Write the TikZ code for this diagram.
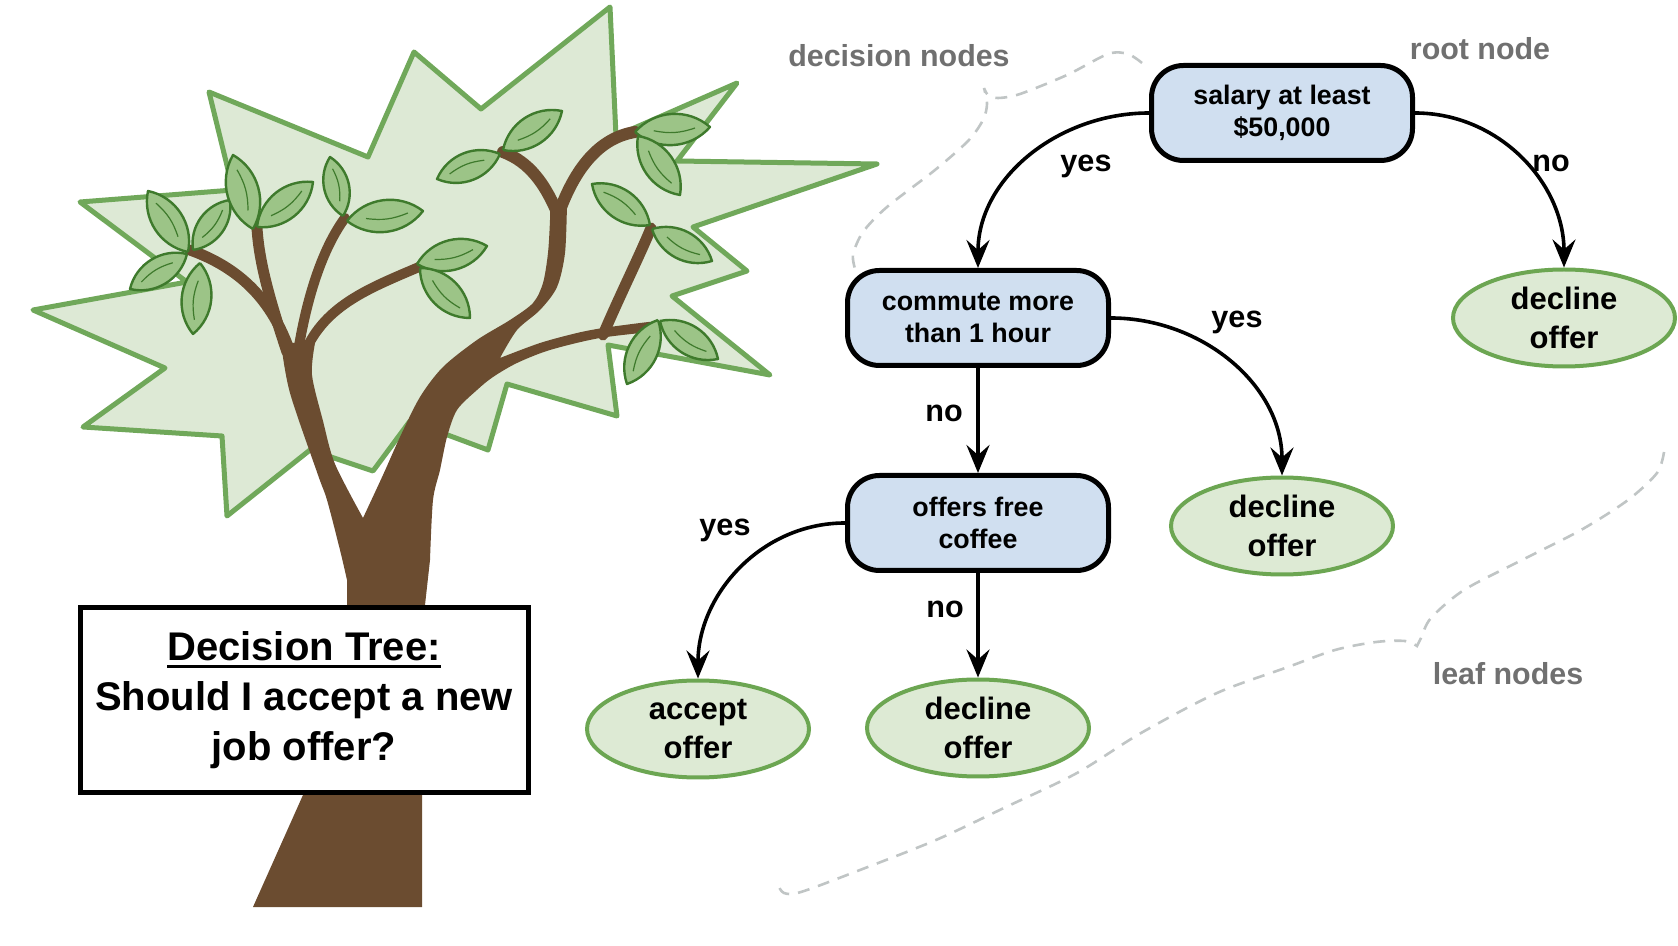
\documentclass[tikz,border=0pt]{standalone}
\usepackage{fontspec}
\setmainfont{Liberation Sans}
\usetikzlibrary{positioning,arrows.meta,shapes,calc}
\definecolor{nodeblue}{RGB}{208,223,240}
\definecolor{endfill}{RGB}{221,234,212}
\definecolor{endedge}{RGB}{108,166,82}
\definecolor{crownfill}{RGB}{221,233,213}
\definecolor{crownedge}{RGB}{112,168,90}
\definecolor{bark}{RGB}{107,76,48}
\definecolor{foliagefill}{RGB}{156,196,135}
\definecolor{foliageedge}{RGB}{62,122,44}
\definecolor{notegray}{RGB}{112,112,112}
\definecolor{dashgray}{RGB}{192,197,197}

% one small leaf of the drawn tree, from its base to its tip
\newcommand{\leafat}[2]{%
  \draw[foliage] (#1) to[bend left=45] (#2) to[bend left=45] (#1);
  \draw[vein] ($(#1)!0.25!(#2)$) to[bend right=15] ($(#1)!0.8!(#2)$);
}
\newcommand{\ulbar}[1]{\setbox0\hbox{#1}\rlap{\vrule height -2.4pt depth 3.9pt width \wd0}\box0}

\begin{document}
\begin{tikzpicture}[x=0.5pt, y=-0.5pt,
    decision/.style={draw=black, line width=2.5pt, fill=nodeblue, rounded corners=16pt,
      minimum width=130.5pt, minimum height=47.5pt, align=center,
      font=\fontsize{13.4}{16}\selectfont\bfseries},
    outcome/.style={ellipse, draw=endedge, line width=2pt, fill=endfill, inner sep=0pt,
      minimum width=111pt, minimum height=48.5pt, align=center,
      font=\fontsize{15.5}{19.5}\selectfont\bfseries},
    link/.style={line width=1.8pt, -{Stealth[length=14pt,width=11.5pt,inset=5pt]}},
    answer/.style={anchor=base, font=\fontsize{15.3}{18}\selectfont\bfseries},
    note/.style={anchor=base, text=notegray, font=\fontsize{15.2}{18}\selectfont\bfseries},
    hint/.style={draw=dashgray, line width=1.3pt, dash pattern=on 6pt off 4.5pt},
    crown/.style={fill=crownfill, draw=crownedge, line width=2.5pt, line join=round},
    limb/.style={draw=bark, line cap=round},
    foliage/.style={draw=foliageedge, fill=foliagefill, line width=1.2pt, line join=round},
    vein/.style={draw=foliageedge, line width=0.6pt}]
  \useasboundingbox (0,0) rectangle (1678,946);

  % the tree
  \filldraw[crown] (414,52) -- (481,109) -- (610,7) -- (616,136) -- (737,83) -- (677,161)
    -- (877,164) -- (693,227) -- (747,271) -- (672,296) -- (770,375) -- (608,345)
    -- (617,416) -- (507,384) -- (488,450) -- (410,421) -- (373,471) -- (310,450)
    -- (227,516) -- (222,436) -- (83,427) -- (165,368) -- (33,310) -- (187,282)
    -- (80,202) -- (233,190) -- (209,92) -- (368,157) -- cycle;
  \fill[bark] (253,907) -- (303,795) -- (347,605)
    -- plot[smooth] coordinates {(347,580) (340,550) (327,500) (318,475) (290,393) (281,343)}
    -- plot[smooth] coordinates {(315,343) (312,375) (323,421) (335,464) (363,518)}
    -- plot[smooth] coordinates {(363,518) (383,475) (400,437) (420,397) (443,367) (477,340)
         (510,320) (533,303) (543,283) (548,253) (550,220) (550,205)}
    -- plot[smooth] coordinates {(567,203) (565,253) (557,287) (540,310) (517,330) (500,358)}
    -- plot[smooth] coordinates {(500,358) (540,343) (577,333) (603,328) (640,323) (658,321)}
    -- plot[smooth] coordinates {(660,331) (600,338) (550,350) (517,363) (493,377) (477,390)
         (457,410) (447,437) (440,470) (433,500) (430,560)}
    -- (425,605) -- (422,795) -- (422,907) -- cycle;
  \draw[limb, line width=5.5pt] (290,352) .. controls (272,300) and (240,268) .. (190,250);
  \draw[limb, line width=5.5pt] (287,352) .. controls (268,295) and (259,260) .. (257,228);
  \draw[limb, line width=5pt] (298,352) .. controls (308,290) and (325,245) .. (345,218);
  \draw[limb, line width=5pt] (305,352) .. controls (325,305) and (370,288) .. (419,267);
  \draw[limb, line width=5.5pt] (603,335) .. controls (620,295) and (640,255) .. (651,228);
  \draw[limb, line width=6pt] (556,210) .. controls (545,185) and (530,162) .. (503,152);
  \draw[limb, line width=6pt] (560,210) .. controls (575,170) and (598,138) .. (635,132);
  \foreach \bx/\by/\tx/\ty in {188/252/148/191, 193/250/230/200, 187/254/130/289,
      200/263/193/334, 253/229/233/155, 257/227/313/182, 343/216/330/157,
      347/221/423/211, 417/264/487/246, 420/268/470/318, 500/154/437/179,
      503/150/562/111, 635/132/710/127, 638/136/680/195, 650/225/592/184,
      652/229/712/261, 658/320/627/384, 660/321/718/359}
    \leafat{\bx,\by}{\tx,\ty};

  \node[draw=black, line width=2.5pt, fill=white, minimum width=224pt, minimum height=92.5pt,
    align=center, font=\fontsize{20}{25}\selectfont\bfseries] (title) at (304,700)
    {\ulbar{Decision Tree:}\\Should I accept a new\\job offer?};

  % the decision tree
  \node[decision] (root) at (1282,113) {salary at least\\\$50,000};
  \node[decision] (commute) at (978,318) {commute more\\than 1 hour};
  \node[decision] (coffee) at (978,523) {offers free\\coffee};
  \node[outcome] (declineA) at (1564,318) {decline\\offer};
  \node[outcome] (declineB) at (1282,526) {decline\\offer};
  \node[outcome] (accept) at (698,729) {accept\\offer};
  \node[outcome] (declineC) at (978,728) {decline\\offer};

  \draw[link] (root.west) to[out=180,in=90] (commute.north);
  \draw[link] (root.east) to[out=0,in=90] (declineA.north);
  \draw[link] (commute.east) to[out=0,in=90] (declineB.north);
  \draw[link] (commute.south) -- (coffee.north);
  \draw[link] (coffee.west) to[out=180,in=90] (accept.north);
  \draw[link] (coffee.south) -- (declineC.north);

  \node[answer] (yesA) at (1086,172) {yes};
  \node[answer] (noA) at (1551,172) {no};
  \node[answer] (yesB) at (1237,328) {yes};
  \node[answer] (noB) at (944,422) {no};
  \node[answer] (yesC) at (725,536) {yes};
  \node[answer] (noC) at (945,618) {no};

  % notes and their dashed braces
  \node[note] (decnote) at (899,67) {decision nodes};
  \node[note] (rootnote) at (1480,60) {root node};
  \node[note] (leafnote) at (1508,685) {leaf nodes};
  \draw[hint] plot[smooth] coordinates {(1142,63) (1128,54) (1108,54) (1067,75) (1020,94)
      (998,98) (988,95) (984,88)}
    -- plot[smooth] coordinates {(984,88) (987,104) (983,120) (968,141) (935,170) (887,207)
      (863,232) (853,255) (856,272)};
  \draw[hint] plot[smooth] coordinates {(1664,452) (1657,473) (1628,500) (1581,530)
      (1522,560) (1464,590) (1431,618) (1421,638) (1417,646)}
    -- plot[smooth] coordinates {(1417,646) (1405,641) (1376,642) (1335,650) (1288,667)
      (1217,693) (1141,733) (1077,773) (1006,807) (936,840) (860,870) (801,892) (784,893)
      (778,885)};
\end{tikzpicture}
\end{document}
